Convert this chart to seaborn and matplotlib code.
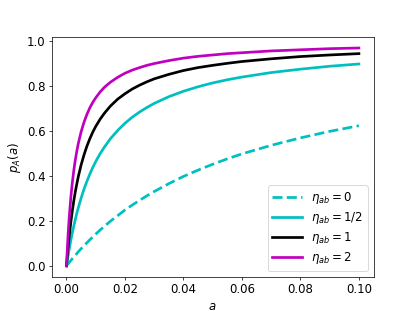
import numpy as np
import pandas as pd
import matplotlib
matplotlib.use("Agg")
import matplotlib.pyplot as plt
import seaborn as sns

# values
a = [0, 0.00025, 0.0005, 0.00075, 0.001, 0.0015, 0.002, 0.0025, 0.003, 0.0035, 0.004,
     0.005, 0.006, 0.007, 0.008, 0.009, 0.01, 0.0115, 0.013, 0.015, 0.0175, 0.02,
     0.0225, 0.025, 0.0275, 0.03, 0.035, 0.04, 0.045, 0.05, 0.055, 0.06, 0.07, 0.08,
     0.09, 0.1]
p_eta0 = [0, 0.004, 0.008, 0.012, 0.016, 0.024, 0.032, 0.039, 0.047, 0.054, 0.062,
          0.076, 0.090, 0.103, 0.116, 0.129, 0.141, 0.159, 0.176, 0.198, 0.223, 0.248,
          0.270, 0.291, 0.311, 0.330, 0.365, 0.397, 0.425, 0.451, 0.475, 0.497, 0.535,
          0.568, 0.597, 0.622]
p_eta_half = [0, 0.021, 0.041, 0.061, 0.079, 0.115, 0.147, 0.177, 0.205, 0.232, 0.256,
              0.301, 0.341, 0.376, 0.408, 0.437, 0.463, 0.498, 0.528, 0.564, 0.601, 0.633,
              0.660, 0.683, 0.703, 0.721, 0.751, 0.775, 0.795, 0.812, 0.826, 0.838, 0.858,
              0.873, 0.886, 0.896]
p_eta1 = [0, 0.039, 0.075, 0.109, 0.140, 0.196, 0.245, 0.289, 0.328, 0.362, 0.394,
          0.448, 0.493, 0.532, 0.565, 0.594, 0.619, 0.651, 0.678, 0.709, 0.740, 0.764,
          0.785, 0.802, 0.817, 0.830, 0.850, 0.867, 0.880, 0.890, 0.899, 0.907, 0.919,
          0.929, 0.936, 0.942]
p_eta2 = [0, 0.068, 0.128, 0.181, 0.227, 0.306, 0.370, 0.424, 0.469, 0.507, 0.541,
          0.595, 0.638, 0.673, 0.702, 0.726, 0.746, 0.772, 0.793, 0.815, 0.837, 0.855,
          0.869, 0.880, 0.890, 0.898, 0.911, 0.922, 0.930, 0.936, 0.942, 0.946, 0.954,
          0.959, 0.964, 0.967]
labels = [r"$\eta_{ab}=0$", r"$\eta_{ab}=1/2$", r"$\eta_{ab}=1$", r"$\eta_{ab}=2$"]

fig, ax = plt.subplots(figsize=(6.4, 4.8), dpi=415 / 6.4)

series = [(p_eta0, "c", "--"), (p_eta_half, "c", "-"), (p_eta1, "k", "-"), (p_eta2, "m", "-")]
for (vals, col, ls), lab in zip(series, labels):
    sns.lineplot(x=a, y=vals, color=col, linestyle=ls, lw=3, label=lab, ax=ax)

ax.set_xlabel("$a$", fontsize=13)
ax.set_ylabel("$p_A(a)$", fontsize=13)
ax.set_xticks([0, 0.02, 0.04, 0.06, 0.08, 0.10])
ax.set_xticklabels(["0.00", "0.02", "0.04", "0.06", "0.08", "0.10"])
ax.tick_params(labelsize=13)
ax.legend(loc="lower right", fontsize=13, handlelength=2.5, labelspacing=0.35)

fig.savefig("out.png")
